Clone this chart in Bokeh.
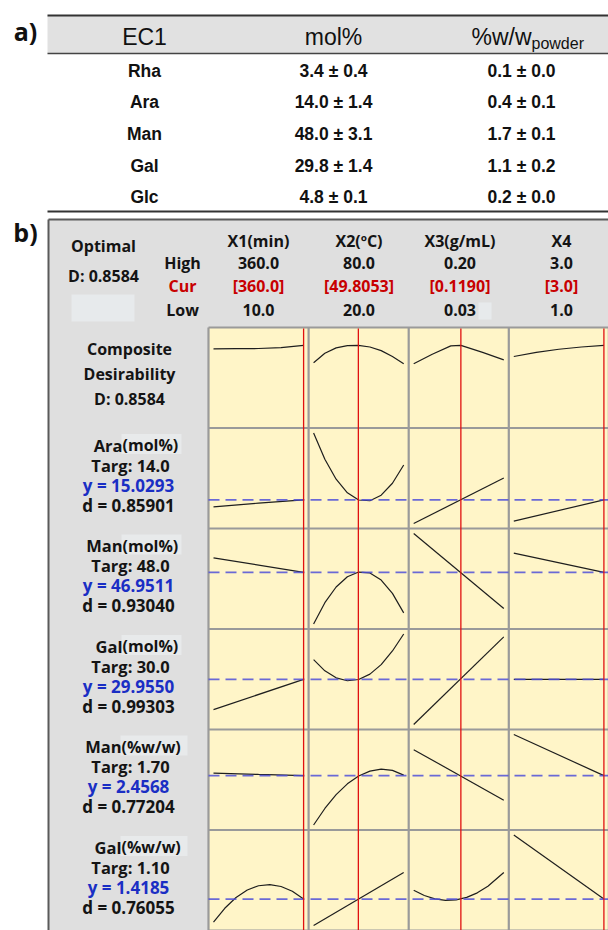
from bokeh.plotting import figure
from bokeh.models import Range1d
from bokeh.core.properties import value
from bokeh.embed import file_html
from bokeh.resources import INLINE

# ---------------- data: table a) ----------------
sugars = ["Rha", "Ara", "Man", "Gal", "Glc"]
mol_mean = [3.4, 14.0, 48.0, 29.8, 4.8]
mol_sd = [0.4, 1.4, 3.1, 1.4, 0.1]
ww_mean = [0.1, 0.4, 1.7, 1.1, 0.2]
ww_sd = [0.0, 0.1, 0.1, 0.2, 0.0]

# ---------------- data: optimizer b) ----------------
factor_names = ["X1(min)", "X2(ºC)", "X3(g/mL)", "X4"]
factor_low = [10.0, 20.0, 0.03, 1.0]
factor_high = [360.0, 80.0, 0.20, 3.0]
factor_cur = [360.0, 49.8053, 0.1190, 3.0]
high_labels = ["360.0", "80.0", "0.20", "3.0"]
cur_labels = ["[360.0]", "[49.8053]", "[0.1190]", "[3.0]"]
low_labels = ["10.0", "20.0", "0.03", "1.0"]
composite_D = 0.8584

resp_names = ["Ara", "Man", "Gal", "Man", "Gal"]
resp_units = ["(mol%)", "(mol%)", "(mol%)", "(%w/w)", "(%w/w)"]
resp_target = ["14.0", "48.0", "30.0", "1.70", "1.10"]
resp_pred = [15.0293, 46.9511, 29.9550, 2.4568, 1.4185]
resp_d = ["0.85901", "0.93040", "0.99303", "0.77204", "0.76055"]

# factor sample levels for the profile curves
x1_ends = [10.0, 360.0]
x1_mid = [10.0, 185.0, 360.0]
x1_fine = [10.0, 53.75, 97.5, 141.25, 185.0, 228.75, 272.5, 316.25, 360.0]
x2_ends = [20.0, 80.0]
x2_fine = [20.0, 27.5, 35.0, 42.5, 50.0, 57.5, 65.0, 72.5, 80.0]
x3_ends = [0.03, 0.20]
x3_fine = [0.03, 0.05, 0.07, 0.09, 0.11, 0.13, 0.15, 0.17, 0.20]
x4_ends = [1.0, 3.0]

# composite desirability profiles
comp_x = [[10.0, 97.5, 185.0, 272.5, 360.0],
          [20.0, 27.5, 35.0, 42.5, 49.8053, 57.5, 65.0, 72.5, 80.0],
          [0.03, 0.065, 0.10, 0.119, 0.16, 0.20],
          [1.0, 1.5, 2.0, 2.5, 3.0]]
comp_y = [[0.820, 0.821, 0.823, 0.833, 0.858],
          [0.665, 0.770, 0.830, 0.855, 0.858, 0.840, 0.800, 0.735, 0.654],
          [0.654, 0.760, 0.852, 0.858, 0.780, 0.698],
          [0.735, 0.780, 0.815, 0.840, 0.858]]
# response profiles
ara_x = [x1_mid, x2_fine, x3_ends, x4_ends]
ara_y = [[14.10, 14.60, 15.03],
         [23.82, 20.36, 17.74, 15.96, 15.01, 14.91, 15.64, 17.21, 19.62],
         [11.92, 17.90], [12.23, 15.03]]
manm_x = [x1_ends, x2_fine, x3_ends, x4_ends]
manm_y = [[51.75, 46.95],
          [29.95, 36.96, 42.14, 45.51, 47.06, 46.76, 44.43, 40.05, 33.62],
          [59.75, 35.08], [53.28, 46.95]]
galm_x = [x1_ends, x2_fine, x3_ends, x4_ends]
galm_y = [[19.90, 29.96],
          [36.48, 32.77, 30.44, 29.48, 29.89, 31.67, 34.83, 39.36, 45.00],
          [14.96, 44.06], [29.95, 29.96]]
manw_x = [x1_mid, x2_fine, x3_ends, x4_ends]
manw_y = [[2.505, 2.480, 2.457],
          [1.480, 1.807, 2.080, 2.295, 2.451, 2.547, 2.585, 2.560, 2.467],
          [2.971, 1.971], [3.271, 2.457]]
galw_x = [x1_fine, x2_ends, x3_fine, x4_ends]
galw_y = [[1.074, 1.281, 1.441, 1.553, 1.617, 1.634, 1.606, 1.534, 1.4185],
          [1.024, 1.8145],
          [1.549, 1.472, 1.422, 1.400, 1.4065, 1.443, 1.511, 1.609, 1.8145],
          [2.374, 1.4185]]

rows_x = [comp_x, ara_x, manm_x, galm_x, manw_x, galw_x]
rows_y = [comp_y, ara_y, manm_y, galm_y, manw_y, galw_y]

# ---------------- layout (reference-pixel frame) ----------------
XL, XR, YT, YB = 0, 608, 0, 930
GRID_L, COL_W, GRID_T, ROW_H = 208.0, 100.1, 327.0, 100.5
PAD_X, PAD_Y = 5.0, 5.0

OS = value("Open Sans")
LS = value("Liberation Sans")

p = figure(width=608, height=930, x_range=Range1d(XL, XR), y_range=Range1d(YB, YT),
           output_backend="svg", toolbar_location=None, min_border=0,
           x_axis_location=None, y_axis_location=None)
p.grid.visible = False
p.outline_line_color = None
p.background_fill_color = "white"
p.border_fill_color = "white"


def txt(xs, ys, texts, size, color="#141414", align="center", font=OS,
        style="bold", baseline="middle"):
    p.text(x=xs, y=ys, text=texts, text_font=font, text_font_size=size,
           text_font_style=style, text_color=color, text_align=align,
           text_baseline=baseline)


# ---------------- a) table ----------------
p.quad(left=[47], right=[608], top=[15], bottom=[53], fill_color="#e1e1e1", line_color=None)
p.segment(x0=[47], x1=[608], y0=[15], y1=[15], line_color="#333333", line_width=2)
p.segment(x0=[47], x1=[608], y0=[53], y1=[53], line_color="#444444", line_width=1.5)
p.segment(x0=[47], x1=[608], y0=[211], y1=[211], line_color="#333333", line_width=2)
txt([25], [30], ["a)"], "25px", color="#111111")
col_x = [144, 333, 521]
txt([col_x[0], col_x[1]], [36, 36], ["EC1", "mol%"], "23px", font=LS, style="normal", color="#111111")
txt([531], [36], ["%w/w"], "23px", font=LS, style="normal", color="#111111", align="right")
txt([531], [43], ["powder"], "16px", font=LS, style="normal", color="#111111", align="left")
row_y = [70 + 31.7 * i for i in range(len(sugars))]
txt([col_x[0]] * len(sugars), row_y, sugars, "17.5px", font=LS, color="#111111")
txt([col_x[1]] * len(sugars), row_y, [f"{m:.1f} ± {s:.1f}" for m, s in zip(mol_mean, mol_sd)],
    "17.5px", font=LS, color="#111111")
txt([col_x[2]] * len(sugars), row_y, [f"{m:.1f} ± {s:.1f}" for m, s in zip(ww_mean, ww_sd)],
    "17.5px", font=LS, color="#111111")

# ---------------- b) optimizer panel ----------------
txt([25], [231], ["b)"], "25px", color="#111111")
p.quad(left=[48], right=[608], top=[219], bottom=[930], fill_color="#dfdfdf", line_color=None)
p.segment(x0=[48, 48], x1=[608, 48], y0=[219, 219], y1=[219, 930], line_color="#5a5a5a", line_width=2)
# pale patches
p.quad(left=[71, 478], right=[134, 491], top=[294, 302], bottom=[321, 319],
       fill_color="#e7eaec", line_color=None)

txt([103, 103], [245, 275], ["Optimal", f"D: {composite_D:.4f}"], "16px")
txt([182, 182], [262, 309], ["High", "Low"], "16px")
txt([182], [285], ["Cur"], "16px", color="#c80000")
col_cx = [258, 358.5, 459.5, 561]
txt(col_cx, [240] * 4, factor_names, "16px")
txt(col_cx, [262] * 4, high_labels, "16px")
txt(col_cx, [285] * 4, cur_labels, "16px", color="#c80000")
txt(col_cx, [309] * 4, low_labels, "16px")

# grid cells
nrows = len(rows_x)
grid_bottom = GRID_T + nrows * ROW_H
p.quad(left=[GRID_L], right=[608], top=[GRID_T], bottom=[grid_bottom],
       fill_color="#fff5c8", line_color=None)

# extra ranges: each column maps factor low..high, each row maps its response span
for c in range(4):
    a = GRID_L + c * COL_W + PAD_X
    b = GRID_L + (c + 1) * COL_W - PAD_X
    lo, hi = factor_low[c], factor_high[c]
    inv = lambda px: lo + (px - a) / (b - a) * (hi - lo)
    p.extra_x_ranges[f"f{c}"] = Range1d(inv(XL), inv(XR))

for r in range(nrows):
    top = GRID_T + r * ROW_H
    pt, pb = top + PAD_Y, top + ROW_H - PAD_Y
    if r == 0:
        lo, hi = 0.0, 1.0
    else:
        allv = [v for ys in rows_y[r] for v in ys]
        lo, hi = min(allv), max(allv)
    inv = lambda py: lo + (pb - py) / (pb - pt) * (hi - lo)
    p.extra_y_ranges[f"r{r}"] = Range1d(inv(YB), inv(YT))

# grid lines
vx = [GRID_L + c * COL_W for c in range(5)]
p.segment(x0=vx, x1=vx, y0=[GRID_T] * 5, y1=[grid_bottom] * 5, line_color="#9a9a9a", line_width=2.2)
hy = [GRID_T + r * ROW_H for r in range(nrows + 1)]
p.segment(x0=[GRID_L] * len(hy), x1=[608] * len(hy), y0=hy, y1=hy, line_color="#9a9a9a", line_width=2.2)

# profile curves
for r in range(nrows):
    for c in range(4):
        p.line(x=rows_x[r][c], y=rows_y[r][c], x_range_name=f"f{c}", y_range_name=f"r{r}",
               line_color="#1e1e1e", line_width=1.2)

# current predicted response (dashed)
for i, yp in enumerate(resp_pred):
    p.segment(x0=[GRID_L], x1=[608], y0=[yp], y1=[yp], y_range_name=f"r{i + 1}",
              line_color="#5050d8", line_alpha=0.85, line_width=1.7, line_dash="11 6")

# current factor settings (red)
for c in range(4):
    p.segment(x0=[factor_cur[c]], x1=[factor_cur[c]], y0=[GRID_T + 1], y1=[grid_bottom],
              x_range_name=f"f{c}", line_color="#e01010", line_width=1.3)

# row labels
comp_top = GRID_T
txt([129] * 3, [comp_top + 21, comp_top + 46, comp_top + 71],
    ["Composite", "Desirability", f"D: {composite_D:.4f}"], "16px")
for i in range(len(resp_names)):
    top = GRID_T + (i + 1) * ROW_H
    ux = 122 if resp_units[i] == "(mol%)" else 121
    wbox = 59 if resp_units[i] == "(mol%)" else 66
    p.quad(left=[ux - 1], right=[ux + wbox], top=[top + 6], bottom=[top + 26],
           fill_color="#e8eaeb", line_color=None)
    txt([ux], [top + 17], [resp_names[i]], "16.5px", align="right")
    txt([ux], [top + 17], [resp_units[i]], "16px", align="left")
    txt([130], [top + 37], [f"Targ: {resp_target[i]}"], "16.5px")
    txt([128], [top + 57], [f"y = {resp_pred[i]:.4f}"], "17px", color="#1a2ec4")
    txt([128], [top + 77], [f"d = {resp_d[i]}"], "17px")

open("out.html", "w").write(file_html(p, INLINE))
